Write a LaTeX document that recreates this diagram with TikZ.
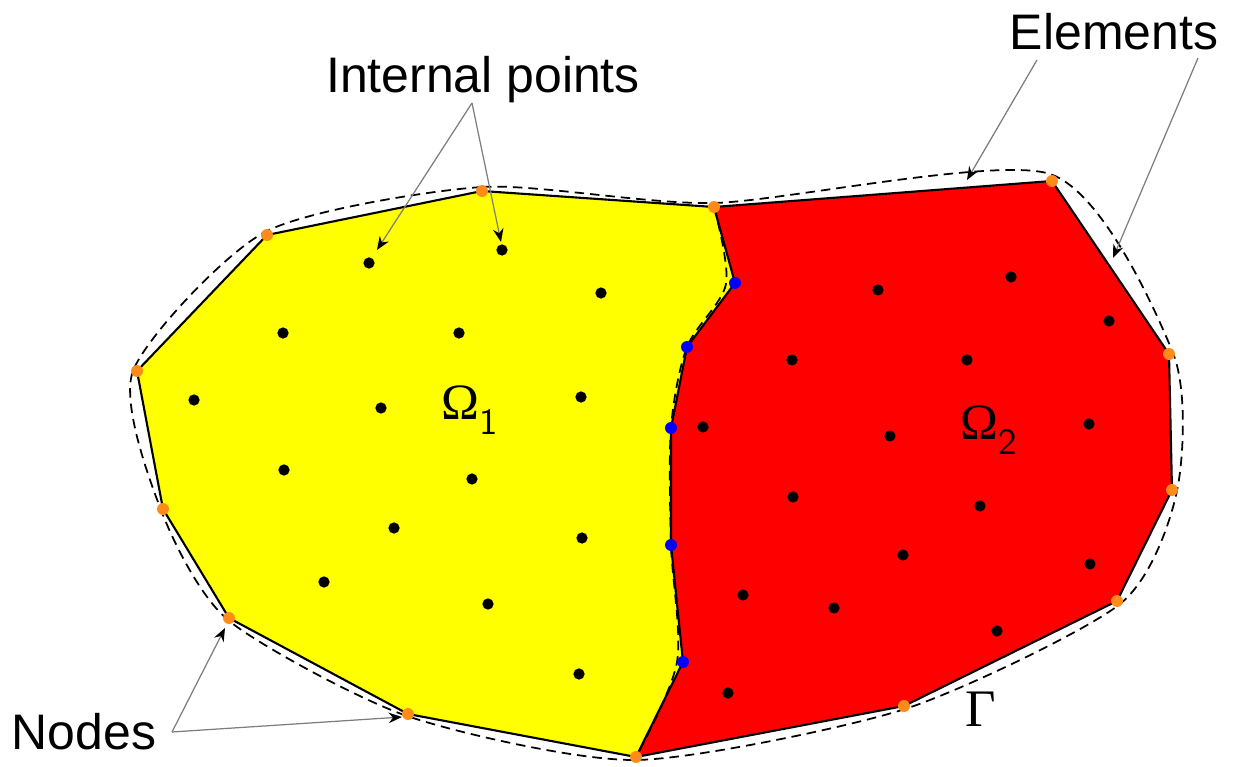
\documentclass[tikz,border=0pt]{standalone}
\usepackage{fontspec}
\setmainfont{Liberation Sans}
\newfontfamily\serifface{Liberation Serif}
\usetikzlibrary{arrows.meta}
\definecolor{domYellow}{RGB}{255,255,0}
\definecolor{domRed}{RGB}{255,0,0}
\definecolor{nodeOrange}{RGB}{255,140,26}
\definecolor{ifBlue}{RGB}{0,0,255}
\definecolor{leadGray}{RGB}{125,125,125}

\begin{document}
\begin{tikzpicture}[x=0.01cm,y=-0.01cm,
  lead/.style={leadGray, line width=0.35pt, -{Stealth[length=3.8pt,width=3pt,color=black]}},
  lbl/.style={font=\fontsize{14.2}{17}\selectfont, inner sep=0pt, anchor=base},
  edge/.style={line width=0.6pt, line join=round},
  exact/.style={line width=0.5pt, dash pattern=on 2.7pt off 1.7pt}]
\useasboundingbox (0,0) rectangle (1235,767);
% boundary nodes
\coordinate (b1) at (267,235);
\coordinate (b2) at (482,191);
\coordinate (b3) at (714,207);
\coordinate (b4) at (1052,181);
\coordinate (b5) at (1169,354);
\coordinate (b6) at (1172,490);
\coordinate (b7) at (1117,601);
\coordinate (b8) at (904,706);
\coordinate (b9) at (636,757);
\coordinate (b10) at (408,714);
\coordinate (b11) at (229,618);
\coordinate (b12) at (163,509);
\coordinate (b13) at (137,371);
% interface nodes
\coordinate (i1) at (735,283);
\coordinate (i2) at (687,347);
\coordinate (i3) at (671,428);
\coordinate (i4) at (671,545);
\coordinate (i5) at (683,662);
% subdomains
\fill[domYellow] (b1) -- (b2) -- (b3) -- (i1) -- (i2) -- (i3) -- (i4) -- (i5) -- (b9)
  -- (b10) -- (b11) -- (b12) -- (b13) -- cycle;
\fill[domRed] (b3) -- (b4) -- (b5) -- (b6) -- (b7) -- (b8) -- (b9)
  -- (i5) -- (i4) -- (i3) -- (i2) -- (i1) -- cycle;
\draw[edge] (b1) -- (b2) -- (b3) -- (b4) -- (b5) -- (b6) -- (b7) -- (b8) -- (b9)
  -- (b10) -- (b11) -- (b12) -- (b13) -- cycle;
\draw[edge] (b3) -- (i1) -- (i2) -- (i3) -- (i4) -- (i5) -- (b9);
% exact geometry
\draw[exact] plot[smooth cycle, tension=0.42] coordinates {(265,232) (482,187) (714,203)
  (1050,174) (1173,353) (1177,491) (1120,604) (905,709) (636,760) (407,716)
  (228,620) (161,510) (133,371)};
\draw[exact] plot[smooth, tension=0.5] coordinates {(714,207) (726,284) (687,347)
  (671,428) (671,545) (677,662) (636,757)};
% internal points
\foreach \p in {(369,263),(502,250),(601,293),(283,333),(459,333),(194,400),(381,408),
  (581,397),(284,470),(472,479),(394,528),(582,538),(324,582),(488,604),(579,674),
  (878,290),(1011,277),(1109,321),(792,360),(967,360),(703,427),(890,436),(1089,424),
  (793,497),(980,506),(903,555),(1090,564),(743,595),(834,608),(997,631),(728,693)}
  \fill \p circle (1.6pt);
\foreach \n in {b1,b2,b3,b4,b5,b6,b7,b8,b9,b10,b11,b12,b13}
  \fill[nodeOrange] (\n) circle (1.7pt);
\foreach \n in {i1,i2,i3,i4,i5}
  \fill[ifBlue] (\n) circle (1.7pt);
% labels
\node[lbl] (intlbl) at (483,93) {Internal points};
\node[lbl] (elemlbl) at (1114,50) {Elements};
\node[lbl] (nodelbl) at (84,750) {Nodes};
\node[lbl, font=\serifface\fontsize{14.5}{17}\selectfont] (om1) at (470,420)
  {Ω\raisebox{-4.2pt}{\sffamily\fontsize{10.5}{12}\selectfont 1}};
\node[lbl, font=\serifface\fontsize{14.5}{17}\selectfont] (om2) at (989,440)
  {Ω\raisebox{-4.2pt}{\sffamily\fontsize{10.5}{12}\selectfont 2}};
\node[lbl, font=\serifface\fontsize{15}{17}\selectfont] (gam) at (981,727) {Γ};
% leaders
\coordinate (intA) at (472,103);
\coordinate (intT1) at (377,250);
\coordinate (intT2) at (501,242);
\coordinate (elA1) at (1037,60);
\coordinate (elT1) at (967,180);
\coordinate (elA2) at (1198,58);
\coordinate (elT2) at (1113,258);
\coordinate (ndA) at (172,732);
\coordinate (ndT1) at (225,628);
\coordinate (ndT2) at (402,717);
\draw[lead] (intA) -- (intT1);
\draw[lead] (intA) -- (intT2);
\draw[lead] (elA1) -- (elT1);
\draw[lead] (elA2) -- (elT2);
\draw[lead] (ndA) -- (ndT1);
\draw[lead] (ndA) -- (ndT2);
\end{tikzpicture}
\end{document}
